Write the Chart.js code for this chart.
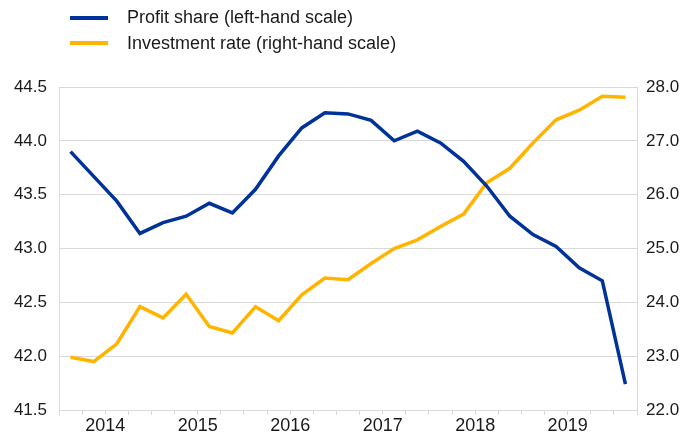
<!DOCTYPE html>
<html>
<head>
<meta charset="utf-8">
<script src="https://cdn.jsdelivr.net/npm/chart.js@4"></script>
<style>
  html, body { margin: 0; padding: 0; background: #fff; }
  #wrap { position: relative; width: 694px; height: 434px; }
  #legend { position: absolute; left: 70px; top: 5px; font-family: "Liberation Sans", Arial, sans-serif; font-size: 18px; color: #1a1a1a; }
  .item { height: 25.5px; display: flex; align-items: center; }
  .swatch { width: 38px; height: 4px; margin-right: 19px; }
</style>
</head>
<body>
<div id="wrap">
  <canvas id="chart" width="694" height="434"></canvas>
  <div id="legend">
    <div class="item"><span class="swatch" style="background:#003299"></span>Profit share (left-hand scale)</div>
    <div class="item"><span class="swatch" style="background:#ffb400"></span>Investment rate (right-hand scale)</div>
  </div>
</div>
<script>
// quarterly observations, 2014 Q1 - 2020 Q1
const quarters = ['2014Q1','2014Q2','2014Q3','2014Q4','2015Q1','2015Q2','2015Q3','2015Q4',
                  '2016Q1','2016Q2','2016Q3','2016Q4','2017Q1','2017Q2','2017Q3','2017Q4',
                  '2018Q1','2018Q2','2018Q3','2018Q4','2019Q1','2019Q2','2019Q3','2019Q4','2020Q1'];
const years = ['2014', '2015', '2016', '2017', '2018', '2019'];

const profitShare = [43.90, 43.67, 43.44, 43.14, 43.24, 43.30, 43.42, 43.33,
                     43.55, 43.86, 44.12, 44.26, 44.25, 44.19, 44.00, 44.09,
                     43.98, 43.81, 43.58, 43.30, 43.13, 43.02, 42.82, 42.70, 41.74];
const investmentRate = [22.98, 22.90, 23.23, 23.92, 23.71, 24.15, 23.55, 23.43,
                        23.92, 23.66, 24.14, 24.45, 24.42, 24.72, 25.00, 25.16,
                        25.41, 25.64, 26.22, 26.49, 26.96, 27.39, 27.57, 27.83, 27.81];

const leftTicks = [41.5, 42.0, 42.5, 43.0, 43.5, 44.0, 44.5];
const rightTicks = [22, 23, 24, 25, 26, 27, 28];

const gridGrey = '#d9d9d9';
const family = '"Liberation Sans", Arial, sans-serif';

new Chart(document.getElementById('chart'), {
    type: 'line',
    data: {
        datasets: [{
            label: 'Profit share (left-hand scale)',
            data: profitShare.map((v, i) => ({ x: i, y: v })),
            borderColor: '#003299',
            borderWidth: 3.5,
            yAxisID: 'yL'
        }, {
            label: 'Investment rate (right-hand scale)',
            data: investmentRate.map((v, i) => ({ x: i, y: v })),
            borderColor: '#ffb400',
            borderWidth: 3.5,
            yAxisID: 'yR'
        }]
    },
    options: {
        responsive: false,
        animation: false,
        elements: { point: { radius: 0 }, line: { tension: 0 } },
        layout: { padding: { top: 87, left: 0, right: 0, bottom: 0 } },
        plugins: { legend: { display: false }, tooltip: { enabled: false } },
        scales: {
            x: {
                type: 'linear',
                min: -0.5,
                max: quarters.length - 0.5,
                afterBuildTicks: scale => {
                    const t = [];
                    for (let k = 0; k <= quarters.length; k++) t.push({ value: k - 0.5 });
                    scale.ticks = t;
                },
                afterFit: scale => { scale.height = 24; },
                grid: { drawOnChartArea: false, drawTicks: true, tickLength: 5, color: gridGrey },
                border: { display: true, color: gridGrey },
                ticks: {
                    autoSkip: false,
                    maxRotation: 0,
                    padding: 0,
                    color: '#1a1a1a',
                    font: { family: family, size: 18 },
                    callback: (value) => {
                        // year label sits between its 2nd and 3rd quarter
                        const k = value - 1.5;
                        if (k >= 0 && k % 4 === 0) return years[k / 4];
                        return '';
                    }
                }
            },
            yL: {
                position: 'left',
                min: 41.5,
                max: 44.5,
                afterBuildTicks: scale => { scale.ticks = leftTicks.map(v => ({ value: v })); },
                afterFit: scale => { scale.width = 59; },
                grid: { color: gridGrey, drawTicks: false },
                border: { display: true, color: gridGrey },
                ticks: { padding: 12, color: '#1a1a1a', font: { family: family, size: 17 }, callback: v => v.toFixed(1) }
            },
            yR: {
                position: 'right',
                min: 22,
                max: 28,
                afterBuildTicks: scale => { scale.ticks = rightTicks.map(v => ({ value: v })); },
                afterFit: scale => { scale.width = 57; },
                grid: { drawOnChartArea: false, drawTicks: false },
                border: { display: true, color: gridGrey },
                ticks: { padding: 9, color: '#1a1a1a', font: { family: family, size: 17 }, callback: v => v.toFixed(1) }
            }
        }
    }
});
</script>
</body>
</html>
